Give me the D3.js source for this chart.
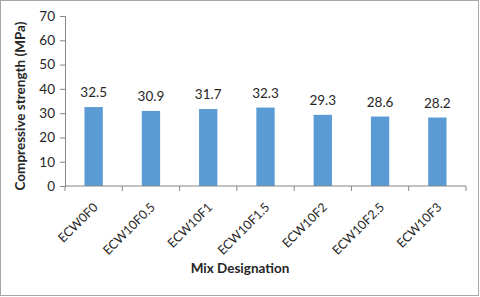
<!DOCTYPE html>
<html>
<head>
<meta charset="utf-8">
<script src="https://d3js.org/d3.v7.min.js"></script>
<style>
  body { margin: 0; background: #fff; }
  svg { display: block; font-family: Lato, "Open Sans", sans-serif; }
</style>
</head>
<body>
<div class="viz"></div>
<script>
var categories = ["ECW0F0", "ECW10F0.5", "ECW10F1", "ECW10F1.5", "ECW10F2", "ECW10F2.5", "ECW10F3"];
var strength = [32.5, 30.9, 31.7, 32.3, 29.3, 28.6, 28.2];
var yTicks = [0, 10, 20, 30, 40, 50, 60, 70];

var width = 480,
    height = 297,
    margin = {top: 16, right: 14, bottom: 111, left: 65};

var svg = d3.select('.viz').append('svg')
    .attr('width', width)
    .attr('height', height);

// frame around the picture
svg.append('rect')
    .attr('x', 0.5).attr('y', 0.5)
    .attr('width', width - 2).attr('height', height - 2)
    .attr('fill', '#fff')
    .attr('stroke', '#a6a6a6');

var x = d3.scaleBand()
    .domain(categories)
    .range([margin.left, width - margin.right])
    .paddingInner(0.68)
    .paddingOuter(0.34);

var y = d3.scaleLinear()
    .domain([0, 70])
    .range([height - margin.bottom, margin.top]);

svg.selectAll('.bar')
    .data(strength)
    .enter().append('rect')
    .attr('class', 'bar')
    .attr('x', (d, i) => x(categories[i]))
    .attr('y', d => y(d))
    .attr('width', x.bandwidth())
    .attr('height', d => y(0) - y(d))
    .attr('fill', '#5b9bd5');

svg.selectAll('.val')
    .data(strength)
    .enter().append('text')
    .attr('class', 'val')
    .attr('x', (d, i) => x(categories[i]) + x.bandwidth() / 2)
    .attr('y', d => y(d) - 10)
    .attr('text-anchor', 'middle')
    .attr('font-size', '13.5px')
    .attr('fill', '#262626')
    .text(d => d.toFixed(1));

// y axis
var yAxis = svg.append('g')
    .attr('transform', 'translate(' + margin.left + ',0)')
    .call(d3.axisLeft(y).tickValues(yTicks).tickSize(5).tickPadding(5));
yAxis.selectAll('text').attr('font-size', '13.5px').attr('fill', '#262626').attr('font-family', 'Lato, sans-serif');
yAxis.selectAll('line, path').attr('stroke', '#868686');

// x axis with ticks between categories
var xAxis = svg.append('g')
    .attr('transform', 'translate(0,' + y(0) + ')');
xAxis.append('line')
    .attr('x1', margin.left).attr('x2', width - margin.right)
    .attr('stroke', '#868686');
var step = (width - margin.right - margin.left) / categories.length;
xAxis.selectAll('.tk')
    .data(d3.range(categories.length + 1))
    .enter().append('line')
    .attr('x1', i => margin.left + i * step)
    .attr('x2', i => margin.left + i * step)
    .attr('y1', 0).attr('y2', 5)
    .attr('stroke', '#868686');
xAxis.selectAll('.lbl')
    .data(categories)
    .enter().append('text')
    .attr('transform', d => 'translate(' + (x(d) + x.bandwidth() / 2 + 5) + ',22) rotate(-45)')
    .attr('text-anchor', 'end')
    .attr('font-size', '12.5px')
    .attr('fill', '#262626')
    .text(d => d);

svg.append('text')
    .attr('x', 240)
    .attr('y', 273)
    .attr('text-anchor', 'middle')
    .attr('font-size', '13.5px')
    .attr('font-weight', 'bold')
    .attr('fill', '#262626')
    .text('Mix Designation');

svg.append('text')
    .attr('transform', 'translate(25,' + ((y(0) + y(70)) / 2 + 5) + ') rotate(-90)')
    .attr('text-anchor', 'middle')
    .attr('font-size', '13.5px')
    .attr('font-weight', 'bold')
    .attr('fill', '#262626')
    .text('Compressive strength (MPa)');
</script>
</body>
</html>
